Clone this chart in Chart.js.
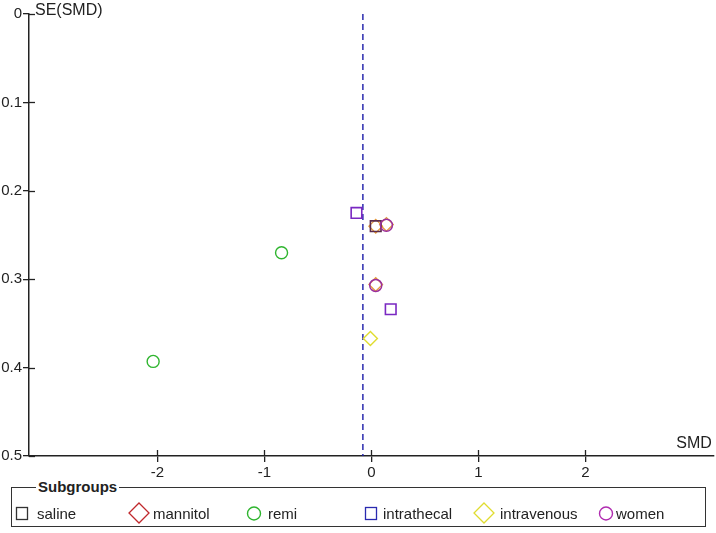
<!DOCTYPE html>
<html>
<head>
<meta charset="utf-8">
<script src="https://cdn.jsdelivr.net/npm/chart.js@4.4.0/dist/chart.umd.min.js"></script>
<style>
  html, body { margin: 0; padding: 0; background: #fff; }
  body { width: 716px; height: 533px; position: relative; overflow: hidden; font-family: "Liberation Sans", Arial, sans-serif; color: #222; }
  #wrap { position: absolute; left: 0; top: 0; width: 723px; height: 484px; }
  #legendBox { position: absolute; left: 11px; top: 487px; width: 695px; height: 40px; box-sizing: border-box; border: 1px solid #333; }
  #legendBox .title { position: absolute; left: 24px; top: -10px; background: #fff; padding: 0 2px; font-weight: bold; font-size: 15px; line-height: 18px; }
  .item { position: absolute; top: 16px; height: 20px; font-size: 15px; line-height: 20px; }
  .item svg { position: absolute; top: 0; }
  .item span { position: absolute; top: 0; white-space: nowrap; }
</style>
</head>
<body>
<div id="wrap"><canvas id="chart"></canvas></div>
<div id="legendBox"><div class="title">Subgroups</div></div>
<script>
// study points: SMD (x) vs SE(SMD) (y)
const salinePts = [[0.04, 0.240]];
const mannitolPts = [[0.04, 0.240], [0.14, 0.238], [0.04, 0.306]];
const remiPts = [[-0.84, 0.270], [-2.04, 0.393]];
const intrathecalPts = [[-0.14, 0.225], [0.18, 0.334]];
const intravenousPts = [[-0.01, 0.367]];
const womenPts = [[0.14, 0.239], [0.04, 0.307]];
const pooledSMD = -0.08;

const xTicks = [-2, -1, 0, 1, 2];
const yTicks = [0, 0.1, 0.2, 0.3, 0.4, 0.5];

const legendItems = [
  { name: 'saline', shape: 'square', color: '#333333', x: 15, tx: 37 },
  { name: 'mannitol', shape: 'diamond', color: '#c0282c', x: 128, tx: 153 },
  { name: 'remi', shape: 'circle', color: '#2fb52f', x: 246, tx: 268 },
  { name: 'intrathecal', shape: 'square', color: '#2a2ab0', x: 364, tx: 383 },
  { name: 'intravenous', shape: 'diamond', color: '#e0dc30', x: 473, tx: 500 },
  { name: 'women', shape: 'circle', color: '#b02cb0', x: 598, tx: 616 }
];

function toXY(arr) {
  return arr.map(p => ({ x: p[0], y: p[1] }));
}

// legend drawn as html under the plot
const box = document.getElementById('legendBox');
legendItems.forEach(it => {
  const d = document.createElement('div');
  d.className = 'item';
  d.style.left = (it.x - 12) + 'px';
  let svg = '';
  if (it.shape === 'square') {
    svg = '<svg width="14" height="20" style="left:0"><rect x="1.5" y="3.5" width="11" height="12" fill="none" stroke="' + it.color + '" stroke-width="1.3"/></svg>';
  } else if (it.shape === 'diamond') {
    svg = '<svg width="24" height="22" style="left:0;top:-2px"><path d="M11 1 L21 11 L11 21 L1 11 Z" fill="none" stroke="' + it.color + '" stroke-width="1.3"/></svg>';
  } else {
    svg = '<svg width="18" height="20" style="left:0"><circle cx="8" cy="9.5" r="6.5" fill="none" stroke="' + it.color + '" stroke-width="1.4"/></svg>';
  }
  d.innerHTML = svg + '<span style="left:' + (it.tx - it.x) + 'px">' + it.name + '</span>';
  box.appendChild(d);
});

// tick marks crossing the axes, plus axis titles
const axisDecor = {
  id: 'axisDecor',
  afterDraw(chart) {
    const ctx = chart.ctx;
    const xs = chart.scales.x, ys = chart.scales.y;
    const area = chart.chartArea;
    ctx.save();
    ctx.strokeStyle = '#222';
    ctx.lineWidth = 1.3;
    xTicks.forEach(v => {
      const px = Math.round(xs.getPixelForValue(v)) + 0.5;
      ctx.beginPath();
      ctx.moveTo(px, area.bottom);
      ctx.lineTo(px, area.bottom - 6);
      ctx.stroke();
    });
    yTicks.forEach(v => {
      const py = Math.round(ys.getPixelForValue(v)) + 0.5;
      ctx.beginPath();
      ctx.moveTo(area.left, py);
      ctx.lineTo(area.left + 6, py);
      ctx.stroke();
    });
    ctx.fillStyle = '#222';
    ctx.font = '16px "Liberation Sans", Arial, sans-serif';
    ctx.textBaseline = 'middle';
    ctx.textAlign = 'left';
    ctx.fillText('SE(SMD)', area.left + 6, 11);
    ctx.textAlign = 'right';
    ctx.fillText('SMD', area.right - 2, area.bottom - 12);
    ctx.restore();
  }
};

const tickFont = { family: '"Liberation Sans", Arial, sans-serif', size: 15 };

new Chart(document.getElementById('chart'), {
  type: 'scatter',
  data: {
    datasets: [
      {
        label: 'women', data: toXY(womenPts), order: 1,
        pointStyle: 'circle', pointRadius: 6, borderColor: '#9a2f9e', borderWidth: 1.5, backgroundColor: 'transparent'
      },
      {
        label: 'saline', data: toXY(salinePts), order: 2,
        pointStyle: 'rect', pointRadius: 7.5, borderColor: '#5a2a4a', borderWidth: 1.6, backgroundColor: 'transparent'
      },
      {
        label: 'intrathecal', data: toXY(intrathecalPts), order: 3,
        pointStyle: 'rect', pointRadius: 7.5, borderColor: '#7a28c2', borderWidth: 1.6, backgroundColor: 'transparent'
      },
      {
        label: 'remi', data: toXY(remiPts), order: 4,
        pointStyle: 'circle', pointRadius: 6, borderColor: '#2fb52f', borderWidth: 1.4, backgroundColor: 'transparent'
      },
      {
        label: 'intravenous', data: toXY(intravenousPts), order: 5,
        pointStyle: 'rectRot', pointRadius: 7, borderColor: '#e0dc30', borderWidth: 1.4, backgroundColor: 'transparent'
      },
      {
        label: 'mannitol', data: toXY(mannitolPts), order: 6,
        pointStyle: 'rectRot', pointRadius: 6.8, borderColor: '#e59a3a', borderWidth: 1.3, backgroundColor: 'transparent'
      },
      {
        type: 'line', label: 'pooled', order: 7,
        data: [{ x: pooledSMD, y: 0 }, { x: pooledSMD, y: 0.5 }],
        borderColor: '#1c1ca8', borderWidth: 1.4, borderDash: [6, 4], pointRadius: 0, fill: false
      }
    ]
  },
  options: {
    responsive: true,
    maintainAspectRatio: false,
    animation: false,
    layout: { padding: { top: 14, right: 2, left: 0, bottom: 0 } },
    plugins: { legend: { display: false }, tooltip: { enabled: false } },
    scales: {
      x: {
        type: 'linear', min: -3.2, max: 3.2,
        afterBuildTicks(scale) { scale.ticks = xTicks.map(v => ({ value: v })); },
        afterFit(scale) { scale.height = 28; },
        grid: { display: true, drawOnChartArea: false, drawTicks: true, tickLength: 6, color: '#222', lineWidth: 1.3 },
        border: { display: true, color: '#222', width: 1.5 },
        ticks: { font: tickFont, color: '#222', padding: 2, maxRotation: 0 }
      },
      y: {
        type: 'linear', min: 0, max: 0.5, reverse: true,
        afterBuildTicks(scale) { scale.ticks = yTicks.map(v => ({ value: v })); },
        afterFit(scale) { scale.width = 29; },
        grid: { display: true, drawOnChartArea: false, drawTicks: true, tickLength: 6, color: '#222', lineWidth: 1.3 },
        border: { display: true, color: '#222', width: 1.5 },
        ticks: { font: tickFont, color: '#222', padding: 1, callback: v => String(v) }
      }
    }
  },
  plugins: [axisDecor]
});
</script>
</body>
</html>
